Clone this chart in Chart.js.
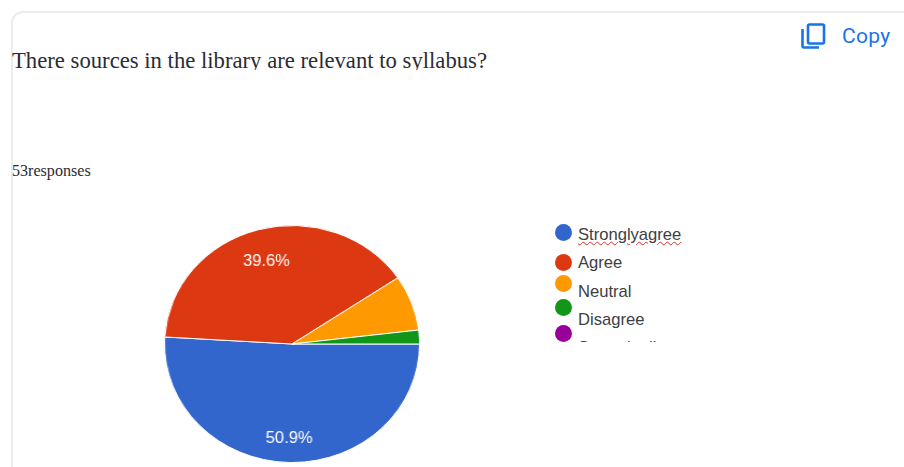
<!DOCTYPE html>
<html>
<head>
<meta charset="utf-8">
<title>Pie chart</title>
<script src="https://cdn.jsdelivr.net/npm/chart.js@4"></script>
<style>
    html, body { margin: 0; padding: 0; background: #fff; width: 904px; height: 467px; overflow: hidden; }
    .card { position: absolute; left: 11px; top: 11px; width: 920px; height: 500px; box-sizing: border-box;
            border: 2px solid #ececec; border-radius: 12px; }
    .title { position: absolute; left: 12px; top: 47px; height: 23px; overflow: hidden; white-space: nowrap;
             font: 22.7px/28px "Liberation Serif", serif; color: #2b2b33; }
    .count { position: absolute; left: 12px; top: 162px; white-space: nowrap;
             font: 16.1px/18px "Liberation Serif", serif; color: #2b2b33; }
    .copy { position: absolute; left: 842px; top: 23px; font: 21px/26px Roboto, sans-serif; color: #1a73e8; letter-spacing: 0.3px; }
    .copy-icon { position: absolute; left: 800px; top: 22px; }
    #pie { position: absolute; left: 164px; top: 225px; transform-origin: 0 0; transform: scaleX(1.076); }
    .legend { position: absolute; left: 550px; top: 220px; width: 200px; height: 122px; overflow: hidden;
              font: 16.6px "Liberation Sans", sans-serif; color: #3c4043; }
    .legend i { position: absolute; left: 5px; width: 17px; height: 17px; border-radius: 50%; }
    .legend span { position: absolute; left: 28px; line-height: 20px; white-space: nowrap; }
    .legend span.typo { text-decoration: underline wavy #d93025 1px; text-underline-offset: 1px; }
</style>
</head>
<body>
<div class="card"></div>
<div class="title">There sources in the library are relevant to syllabus?</div>
<div class="count">53responses</div>
<svg class="copy-icon" width="28" height="28" viewBox="0 0 28 28" fill="none" stroke="#1a73e8" stroke-width="2.6">
    <rect x="8" y="2.5" width="16" height="19" rx="1.5"></rect>
    <path d="M2.5 7v17a1.5 1.5 0 0 0 1.5 1.5h15"></path>
</svg>
<div class="copy">Copy</div>
<canvas id="pie" width="238" height="238"></canvas>
<div class="legend" id="legend"></div>

<script>
const categories = ['Stronglyagree', 'Agree', 'Neutral', 'Disagree', 'Strongly disagree'];
const responses = [27, 21, 4, 1, 0];
const colors = ['#3366cc', '#dc3912', '#ff9900', '#109618', '#990099'];

// legend rows as they sit in the screenshot (dots are not evenly spaced)
const dotTops = [4, 34, 55, 79, 105];
const textTops = [5, 33, 62, 90, 118];

const legendBox = document.getElementById('legend');
categories.forEach((name, i) => {
    const dot = document.createElement('i');
    dot.style.top = dotTops[i] + 'px';
    dot.style.background = colors[i];
    legendBox.appendChild(dot);

    const label = document.createElement('span');
    label.innerText = name;
    label.style.top = textTops[i] + 'px';
    if (i === 0) label.classList.add('typo');
    legendBox.appendChild(label);
});

// The pie is stretched sideways, so undo the stretch for its text
const stretch = 1.076;

const sliceLabels = {
    id: 'sliceLabels',
    afterDatasetsDraw(chart) {
        const { ctx } = chart;
        const total = responses.reduce((a, b) => a + b, 0);
        chart.getDatasetMeta(0).data.forEach((arc, i) => {
            const share = responses[i] / total * 100;
            if (share < 10) return;
            const mid = (arc.startAngle + arc.endAngle) / 2;
            const x = arc.x + Math.cos(mid) * arc.outerRadius * 0.76;
            const y = arc.y + Math.sin(mid) * arc.outerRadius * 0.76 + 4.5;
            ctx.save();
            ctx.translate(x, y);
            ctx.scale(1 / stretch, 1);
            ctx.fillStyle = '#ffffff';
            ctx.font = '16.5px "Liberation Sans", sans-serif';
            ctx.textAlign = 'center';
            ctx.textBaseline = 'middle';
            ctx.fillText(share.toFixed(1) + '%', 0, 0);
            ctx.restore();
        });
    }
};

new Chart(document.getElementById('pie'), {
    type: 'pie',
    data: {
        labels: categories,
        datasets: [{
            data: responses,
            backgroundColor: colors,
            borderColor: '#ffffff',
            borderWidth: 1
        }]
    },
    options: {
        responsive: false,
        animation: false,
        rotation: 90,
        layout: { padding: 0 },
        plugins: {
            legend: { display: false },
            tooltip: { enabled: false }
        }
    },
    plugins: [sliceLabels]
});
</script>
</body>
</html>
